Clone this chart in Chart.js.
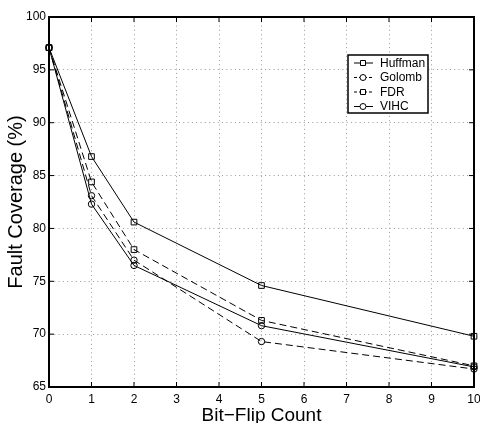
<!DOCTYPE html>
<html>
<head>
<meta charset="utf-8">
<script src="https://cdn.jsdelivr.net/npm/chart.js@4/dist/chart.umd.min.js"></script>
<style>
  body { margin: 0; background: #fff; }
  #wrap { width: 480px; height: 423px; position: relative; }
</style>
</head>
<body>
<div id="wrap"><canvas id="fault-coverage"></canvas></div>
<script>
// Static data
const bitFlips = [0, 1, 2, 5, 10];
const huffman = [97.1, 86.8, 80.6, 74.6, 69.8];
const golomb = [97.1, 83.1, 77.0, 69.3, 66.7];
const fdr = [97.1, 84.4, 78.0, 71.3, 67.0];
const vihc = [97.1, 82.3, 76.5, 70.8, 66.9];

const FONT = "'Liberation Sans', Arial, Helvetica, sans-serif";

const toPoints = (ys) => ys.map((y, i) => ({ x: bitFlips[i], y }));

const series = (label, data, style, dashed) => ({
    label,
    data: toPoints(data),
    borderColor: "#000",
    borderWidth: 1,
    borderDash: dashed ? [7, 4] : [],
    pointStyle: style,
    pointRadius: style === "rect" ? 4 : 3.2,
    pointBorderColor: "#000",
    pointBackgroundColor: "rgba(0,0,0,0)",
    pointBorderWidth: 1,
    tension: 0,
    clip: 10,
});

// MATLAB-like frame: box, inward ticks, legend inside the axes
const matlabFrame = {
    id: "matlabFrame",
    afterDraw(chart) {
        const { ctx, chartArea: a, scales } = chart;
        ctx.save();
        ctx.strokeStyle = "#000";
        ctx.setLineDash([]);
        ctx.lineWidth = 1;
        const tl = 5;
        scales.x.ticks.forEach((t) => {
            const px = scales.x.getPixelForValue(t.value);
            ctx.beginPath();
            ctx.moveTo(px, a.bottom);
            ctx.lineTo(px, a.bottom - tl);
            ctx.moveTo(px, a.top);
            ctx.lineTo(px, a.top + tl);
            ctx.stroke();
        });
        scales.y.ticks.forEach((t) => {
            const py = scales.y.getPixelForValue(t.value);
            ctx.beginPath();
            ctx.moveTo(a.left, py);
            ctx.lineTo(a.left + tl, py);
            ctx.moveTo(a.right, py);
            ctx.lineTo(a.right - tl, py);
            ctx.stroke();
        });
        ctx.lineWidth = 2;
        ctx.strokeRect(a.left, a.top, a.right - a.left, a.bottom - a.top);

        // legend box
        const lx = 348, ly = 55, lw = 80, lh = 58;
        ctx.fillStyle = "#fff";
        ctx.fillRect(lx, ly, lw, lh);
        ctx.lineWidth = 1.5;
        ctx.strokeRect(lx, ly, lw, lh);
        ctx.font = "12px " + FONT;
        ctx.textBaseline = "middle";
        ctx.textAlign = "left";
        chart.data.datasets.forEach((ds, i) => {
            const y = 63 + i * 14.5;
            ctx.lineWidth = 1;
            ctx.strokeStyle = "#000";
            ctx.setLineDash(ds.borderDash.length ? [3, 2] : []);
            ctx.beginPath();
            ctx.moveTo(354, y);
            ctx.lineTo(373, y);
            ctx.stroke();
            ctx.setLineDash([]);
            ctx.fillStyle = "#fff";
            ctx.beginPath();
            if (ds.pointStyle === "rect") {
                ctx.rect(360.5, y - 2.5, 5, 5);
            } else {
                ctx.arc(363, y, 3, 0, Math.PI * 2);
            }
            ctx.fill();
            ctx.stroke();
            ctx.fillStyle = "#000";
            ctx.fillText(ds.label, 380, y + 0.5);
        });
        ctx.restore();
    },
};

new Chart(document.getElementById("fault-coverage"), {
    type: "line",
    data: {
        datasets: [
            series("Huffman", huffman, "rect", false),
            series("Golomb", golomb, "circle", true),
            series("FDR", fdr, "rect", true),
            series("VIHC", vihc, "circle", false),
        ],
    },
    options: {
        responsive: true,
        maintainAspectRatio: false,
        animation: false,
        layout: { padding: { top: 17, right: 6, left: 0, bottom: 0 } },
        scales: {
            x: {
                type: "linear",
                min: 0,
                max: 10,
                ticks: {
                    stepSize: 1,
                    color: "#000",
                    font: { family: FONT, size: 12 },
                    padding: 5,
                    maxRotation: 0,
                },
                grid: { color: "#9a9a9a", lineWidth: 1, drawTicks: false },
                border: { display: true, color: "#000", width: 2, dash: [1, 3.3] },
                title: {
                    display: true,
                    text: "Bit\u2212Flip Count",
                    color: "#000",
                    font: { family: FONT, size: 19, lineHeight: 0.8 },
                    padding: 0,
                },
                afterFit: (s) => {
                    s.height = 36;
                    s.paddingLeft = 0;
                    s.paddingRight = 0;
                },
            },
            y: {
                min: 65,
                max: 100,
                ticks: {
                    stepSize: 5,
                    color: "#000",
                    font: { family: FONT, size: 12 },
                    padding: 3,
                },
                grid: { color: "#9a9a9a", lineWidth: 1, drawTicks: false },
                border: { display: true, color: "#000", width: 2, dash: [1, 3.3] },
                title: {
                    display: true,
                    text: "Fault Coverage (%)",
                    color: "#000",
                    font: { family: FONT, size: 20, lineHeight: 1.2 },
                    padding: { top: 4, bottom: 0 },
                },
                afterFit: (s) => {
                    s.width = 49;
                    s.paddingTop = 0;
                    s.paddingBottom = 0;
                },
            },
        },
        plugins: {
            legend: { display: false },
            tooltip: { enabled: false },
        },
    },
    plugins: [matlabFrame],
});
</script>
</body>
</html>
